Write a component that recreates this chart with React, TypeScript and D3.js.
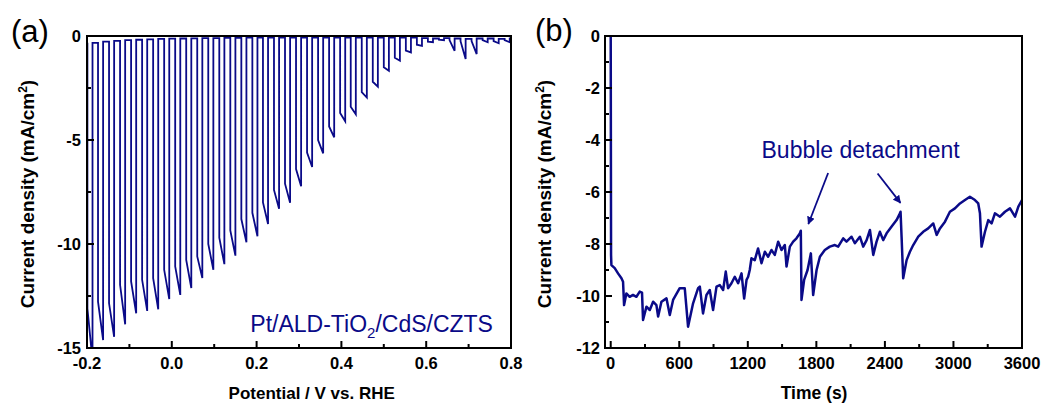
import React from "react";
import * as d3 from "d3";

// ---------- Panel (a): chopped-light LSV ----------
const lightOnV = [-0.199, -0.174, -0.148, -0.122, -0.096, -0.070, -0.044, -0.018, 0.008, 0.034, 0.060, 0.086, 0.112, 0.138, 0.164, 0.190, 0.215, 0.241, 0.267, 0.293, 0.319, 0.345, 0.371, 0.397, 0.422, 0.448, 0.474, 0.500, 0.526, 0.552, 0.578, 0.604, 0.630, 0.655, 0.681, 0.707, 0.733, 0.759, 0.785];
const lightOffV = [-0.187, -0.162, -0.136, -0.110, -0.084, -0.058, -0.032, -0.006, 0.020, 0.046, 0.072, 0.098, 0.124, 0.150, 0.176, 0.202, 0.227, 0.253, 0.279, 0.305, 0.331, 0.357, 0.383, 0.409, 0.434, 0.460, 0.486, 0.512, 0.538, 0.564, 0.590, 0.616, 0.642, 0.667, 0.693, 0.719, 0.745, 0.771, 0.797];
const jLightStart = [-13.1, -12.77, -12.85, -11.96, -11.8, -11.72, -11.64, -11.24, -11.08, -10.76, -10.6, -10.0, -9.7, -9.35, -8.8, -8.5, -8.0, -7.4, -7.1, -6.4, -5.6, -5.0, -4.35, -3.7, -3.4, -2.7, -2.2, -1.5, -1.05, -0.7, -0.42, -0.27, -0.18, -0.2, -0.25, -0.25, -0.2, -0.25, -0.2];
const jLightEnd = [-15.6, -14.62, -14.46, -13.86, -13.33, -13.22, -13.14, -12.65, -12.45, -12.12, -11.64, -11.24, -10.97, -10.56, -9.92, -9.63, -9.04, -8.3, -8.02, -7.22, -6.3, -5.64, -4.87, -4.1, -3.76, -2.96, -2.43, -1.67, -1.19, -0.79, -0.47, -0.3, -0.2, -0.71, -1.1, -0.87, -0.3, -0.35, -0.3];
const jDark = [-0.33, -0.27, -0.23, -0.2, -0.18, -0.16, -0.14, -0.13, -0.12, -0.11, -0.1, -0.1, -0.09, -0.09, -0.08, -0.08, -0.08, -0.08, -0.08, -0.08, -0.08, -0.08, -0.08, -0.08, -0.08, -0.08, -0.08, -0.08, -0.08, -0.08, -0.1, -0.12, -0.1, -0.12, -0.14, -0.12, -0.12, -0.14, -0.12];
const xTicksA = [-0.2, 0.0, 0.2, 0.4, 0.6, 0.8];
const xMinorA = [-0.1, 0.1, 0.3, 0.5, 0.7];
const yTicksA = [0, -5, -10, -15];
const yMinorA = [-2.5, -7.5, -12.5];

// ---------- Panel (b): chronoamperometry ----------
const timeB = [0, 3, 6, 35, 64, 94, 108, 117, 137, 166, 195, 225, 254, 274, 283, 313, 342, 371, 400, 415, 444, 488, 517, 546, 604, 648, 677, 721, 765, 780, 808, 838, 867, 896, 926, 955, 984, 1007, 1027, 1057, 1086, 1115, 1145, 1168, 1189, 1203, 1217, 1232, 1261, 1290, 1320, 1349, 1378, 1407, 1436, 1466, 1495, 1524, 1539, 1568, 1597, 1626, 1655, 1664, 1670, 1693, 1723, 1752, 1772, 1802, 1831, 1874, 1918, 1962, 1991, 2035, 2064, 2108, 2137, 2181, 2210, 2240, 2269, 2298, 2327, 2356, 2385, 2415, 2459, 2502, 2525, 2537, 2546, 2560, 2590, 2619, 2648, 2692, 2735, 2779, 2823, 2853, 2882, 2926, 2969, 3013, 3057, 3101, 3144, 3188, 3217, 3232, 3246, 3276, 3305, 3334, 3363, 3407, 3451, 3495, 3539, 3568, 3600];
const currentB = [0, -8.42, -8.81, -8.93, -9.13, -9.32, -9.45, -10.35, -9.9, -10.03, -9.96, -10.03, -9.83, -9.87, -10.92, -10.41, -10.54, -10.22, -10.35, -10.79, -10.22, -10.09, -10.73, -10.15, -9.7, -9.7, -11.18, -10.28, -9.7, -9.64, -10.67, -9.96, -9.77, -10.54, -9.64, -9.58, -9.77, -9.06, -9.7, -9.51, -9.26, -9.51, -9.13, -10.1, -9.38, -9.26, -9.0, -8.55, -8.62, -8.17, -8.74, -8.3, -8.49, -8.23, -8.42, -7.91, -8.23, -8.04, -8.87, -8.1, -7.91, -7.78, -7.59, -7.49, -10.15, -9.38, -9.0, -8.36, -9.96, -9.0, -8.49, -8.23, -8.1, -8.04, -8.1, -7.78, -7.91, -7.72, -7.97, -7.72, -8.1, -7.85, -7.46, -8.42, -7.91, -7.53, -7.85, -7.59, -7.33, -7.08, -6.88, -6.76, -7.72, -9.32, -8.62, -8.3, -8.04, -7.72, -7.53, -7.4, -7.21, -7.65, -7.4, -7.14, -6.76, -6.63, -6.44, -6.31, -6.18, -6.31, -6.44, -6.82, -8.1, -7.53, -7.08, -7.21, -6.82, -6.95, -6.76, -6.63, -6.95, -6.56, -6.31];
const xTicksB = [0, 600, 1200, 1800, 2400, 3000, 3600];
const xMinorB = [300, 900, 1500, 2100, 2700, 3300];
const yTicksB = [0, -2, -4, -6, -8, -10, -12];
const yMinorB = [-1, -3, -5, -7, -9, -11];

// annotation anchors (data coords of panel b)
const arrowTails = [[1903, -5.27], [2336, -5.29]];
const arrowTips = [[1730, -7.23], [2536, -6.42]];

const NAVY = "#0a0a88";
const FONT = "'Liberation Sans', Arial, Helvetica, sans-serif";

export default function App() {
  const xA = d3.scaleLinear().domain([-0.2, 0.8]).range([87, 511]);
  const yA = d3.scaleLinear().domain([-15, 0]).range([348, 36]);
  const xB = d3.scaleLinear().domain([-50, 3600]).range([605, 1022]);
  const yB = d3.scaleLinear().domain([-12, 0]).range([348, 36]);

  const ptsA: [number, number][] = [];
  let prev = jDark[0];
  for (let i = 0; i < lightOnV.length; i++) {
    ptsA.push([lightOnV[i], prev]);
    ptsA.push([lightOnV[i], jLightStart[i]]);
    ptsA.push([lightOffV[i], jLightEnd[i]]);
    ptsA.push([lightOffV[i], jDark[i]]);
    prev = jDark[i];
  }
  ptsA.push([0.8, prev]);
  const lineA = d3.line<[number, number]>().x(d => xA(d[0])).y(d => yA(d[1]));
  const ptsB: [number, number][] = timeB.map((t, i) => [t, currentB[i]]);
  const lineB = d3.line<[number, number]>().x(d => xB(d[0])).y(d => yB(d[1]));

  const tickStyle = { fontFamily: FONT, fontWeight: 700, fontSize: 16.5, fill: "#000" } as const;

  const frame = (x: any, y: any) => {
    const [x0, x1] = x.range();
    const [y1, y0] = y.range();
    return <rect x={x0} y={y0} width={x1 - x0} height={y1 - y0} fill="none" stroke="#000" strokeWidth={2} />;
  };

  const fmtA = (v: number) => v.toFixed(1);

  return (
    <svg width={1049} height={403} style={{ position: "absolute", left: 0, top: 0, background: "#fff" }}>
      <defs>
        <clipPath id="clipA"><rect x={87} y={36} width={424} height={312} /></clipPath>
        <clipPath id="clipB"><rect x={605} y={36} width={417} height={312} /></clipPath>
        <marker id="arrowHead" viewBox="0 0 10 10" refX="9" refY="5" markerWidth="8" markerHeight="8" orient="auto" markerUnits="userSpaceOnUse">
          <path d="M0,0 L10,5 L0,10 z" fill={NAVY} />
        </marker>
      </defs>

      {/* ---------------- Panel (a) ---------------- */}
      <g>
        <path d={lineA(ptsA) || ""} fill="none" stroke={NAVY} strokeWidth={1.8} clipPath="url(#clipA)" strokeLinejoin="miter" />
        {frame(xA, yA)}
        {xTicksA.map(v => (
          <g key={"xa" + v}>
            <line x1={xA(v)} x2={xA(v)} y1={348} y2={341} stroke="#000" strokeWidth={2} />
            <text x={xA(v)} y={369} textAnchor="middle" style={tickStyle}>{fmtA(v)}</text>
          </g>
        ))}
        {xMinorA.map(v => (
          <line key={"xam" + v} x1={xA(v)} x2={xA(v)} y1={348} y2={344} stroke="#000" strokeWidth={2} />
        ))}
        {yTicksA.map(v => (
          <g key={"ya" + v}>
            <line x1={87} x2={94} y1={yA(v)} y2={yA(v)} stroke="#000" strokeWidth={2} />
            <text x={81} y={yA(v) + 6} textAnchor="end" style={tickStyle}>{v}</text>
          </g>
        ))}
        {yMinorA.map(v => (
          <line key={"yam" + v} x1={87} x2={91} y1={yA(v)} y2={yA(v)} stroke="#000" strokeWidth={2} />
        ))}
        <text x={xA(0.33)} y={399} textAnchor="middle" style={{ fontFamily: FONT, fontWeight: 700, fontSize: 17 }}>Potential / V vs. RHE</text>
        <text transform={`translate(34,${yA(-7.5) + 2}) rotate(-90)`} textAnchor="middle" style={{ fontFamily: FONT, fontWeight: 700, fontSize: 19 }}>
          Current density (mA/cm<tspan dy={-7} fontSize={12}>2</tspan><tspan dy={7}>)</tspan>
        </text>
        <text x={xA(0.7575)} y={yA(-14.22)} textAnchor="end" style={{ fontFamily: FONT, fontSize: 23, fill: NAVY }}>
          Pt/ALD-TiO<tspan dy={6} fontSize={15}>2</tspan><tspan dy={-6}>/CdS/CZTS</tspan>
        </text>
        <text x={11} y={42} style={{ fontFamily: FONT, fontSize: 31 }}>(a)</text>
      </g>

      {/* ---------------- Panel (b) ---------------- */}
      <g>
        <path d={lineB(ptsB) || ""} fill="none" stroke={NAVY} strokeWidth={2.5} clipPath="url(#clipB)" strokeLinejoin="round" />
        {frame(xB, yB)}
        {xTicksB.map(v => (
          <g key={"xb" + v}>
            <line x1={xB(v)} x2={xB(v)} y1={348} y2={341} stroke="#000" strokeWidth={2} />
            <text x={xB(v)} y={369} textAnchor="middle" style={tickStyle}>{v}</text>
          </g>
        ))}
        {xMinorB.map(v => (
          <line key={"xbm" + v} x1={xB(v)} x2={xB(v)} y1={348} y2={344} stroke="#000" strokeWidth={2} />
        ))}
        {yTicksB.map(v => (
          <g key={"yb" + v}>
            <line x1={605} x2={612} y1={yB(v)} y2={yB(v)} stroke="#000" strokeWidth={2} />
            <text x={600} y={yB(v) + 6} textAnchor="end" style={tickStyle}>{v}</text>
          </g>
        ))}
        {yMinorB.map(v => (
          <line key={"ybm" + v} x1={605} x2={609} y1={yB(v)} y2={yB(v)} stroke="#000" strokeWidth={2} />
        ))}
        <text x={xB(1780)} y={399} textAnchor="middle" style={{ fontFamily: FONT, fontWeight: 700, fontSize: 17.5 }}>Time (s)</text>
        <text transform={`translate(551,${yB(-6) + 2}) rotate(-90)`} textAnchor="middle" style={{ fontFamily: FONT, fontWeight: 700, fontSize: 19 }}>
          Current density (mA/cm<tspan dy={-7} fontSize={12}>2</tspan><tspan dy={7}>)</tspan>
        </text>
        <text x={xB(1320)} y={yB(-4.7)} style={{ fontFamily: FONT, fontSize: 23, fill: NAVY }}>Bubble detachment</text>
        {arrowTails.map((t, i) => (
          <line key={"ar" + i} x1={xB(t[0])} y1={yB(t[1])} x2={xB(arrowTips[i][0])} y2={yB(arrowTips[i][1])} stroke={NAVY} strokeWidth={1.8} markerEnd="url(#arrowHead)" />
        ))}
        <text x={535} y={41} style={{ fontFamily: FONT, fontSize: 31 }}>(b)</text>
      </g>
    </svg>
  );
}
